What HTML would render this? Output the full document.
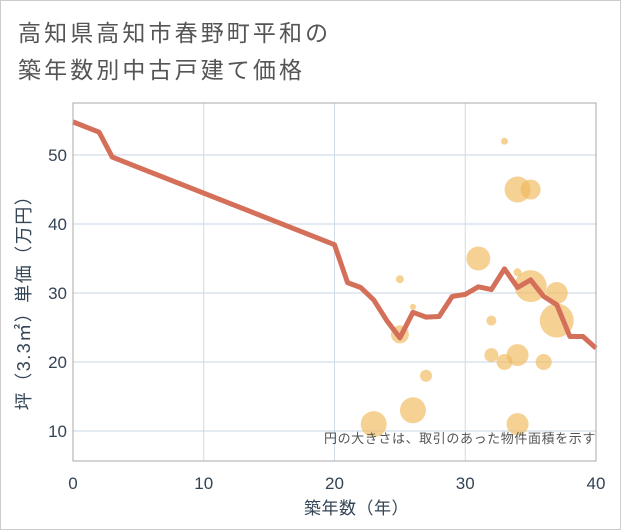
<!DOCTYPE html>
<html><head><meta charset="utf-8"><style>
body{margin:0;background:#fff;}
svg{display:block;font-family:"Liberation Sans","Noto Sans CJK JP",sans-serif;}
</style></head><body>
<svg id="c" width="621" height="530">
<rect x="0.5" y="0.5" width="620" height="529" fill="#fff" stroke="#ccc"/>
<text x="18" y="41" font-size="23" letter-spacing="3.1" fill="#555">高知県高知市春野町平和の</text>
<text x="18" y="78" font-size="23" letter-spacing="3.1" fill="#555">築年数別中古戸建て価格</text>
<g id="grid"></g><g id="bubbles"></g><g id="line"></g><g id="axes"></g>
<text x="596" y="443" font-size="13" letter-spacing="0.6" fill="#555" text-anchor="end">円の大きさは、取引のあった物件面積を示す</text>
<text x="304" y="514" font-size="17" letter-spacing="0.5" fill="#345">築年数（年）</text>
<text transform="translate(30,298) rotate(-90)" font-size="18" letter-spacing="1.5" fill="#345" text-anchor="middle">坪（3.3㎡）単価（万円）</text>
</svg>
<script>
const lineYears=[0,2,3,20,21,22,23,24,25,26,27,28,29,30,31,32,33,34,35,36,37,38,39,40];
const lineValues=[54.8,53.3,49.7,37,31.5,30.8,29,26,23.5,27.2,26.5,26.6,29.5,29.8,30.9,30.5,33.5,30.8,31.9,29.5,28.3,23.7,23.7,22];
const bubbleYears=[33,34,35,31,25,34,35,37,26,32,37,25,32,33,34,36,27,23,26,34];
const bubbleValues=[52,45,45,35,32,33,31,30,28,26,26,24,21,20,21,20,18,11,13,11];
const bubbleSizes=[3.5,13,10,12,4,4,16,11,3,5,17,9,7,8,11,8,6,13,13,11];
const xTicks=[0,10,20,30,40];
const yTicks=[10,20,30,40,50];
const L=73,R=596,T=103,B=461;
const x=v=>L+(v-0)/40*(R-L);
const y=v=>431-(v-10)*6.9;
const NS="http://www.w3.org/2000/svg";
function mk(tag,parent,attrs){const e=document.createElementNS(NS,tag);for(const k in attrs)e.setAttribute(k,attrs[k]);document.getElementById(parent).appendChild(e);return e;}
xTicks.forEach(t=>{
 const g=mk('line','grid',{x1:x(t),x2:x(t),y1:T,y2:B,stroke:'#d0dce8','stroke-width':1});
 
 
 const l=mk('text','axes',{x:x(t),y:489,'font-size':17,fill:'#345','text-anchor':'middle'});l.textContent=t;
 
 
});
yTicks.forEach(t=>{
 const g=mk('line','grid',{x1:L,x2:R,y1:y(t),y2:y(t),stroke:'#c8d6e4','stroke-width':1});
 
 
 const l=mk('text','axes',{x:67,y:y(t)+6,'font-size':17,fill:'#345','text-anchor':'end'});l.textContent=t;
 
 
});
const fr=mk('rect','axes',{x:L,y:T,width:R-L,height:B-T,fill:'none',stroke:'#aaa'});


bubbleYears.forEach((yr,i)=>{
 const c=mk('circle','bubbles',{cx:x(yr),cy:y(bubbleValues[i]),r:bubbleSizes[i],fill:'rgba(240,185,90,0.65)'});
 
 
});
const p=mk('polyline','line',{points:lineYears.map((v,i)=>x(v)+','+y(lineValues[i])).join(' '),fill:'none',stroke:'#d4705a','stroke-width':5,'stroke-linejoin':'round'});


</script>
</body></html>
